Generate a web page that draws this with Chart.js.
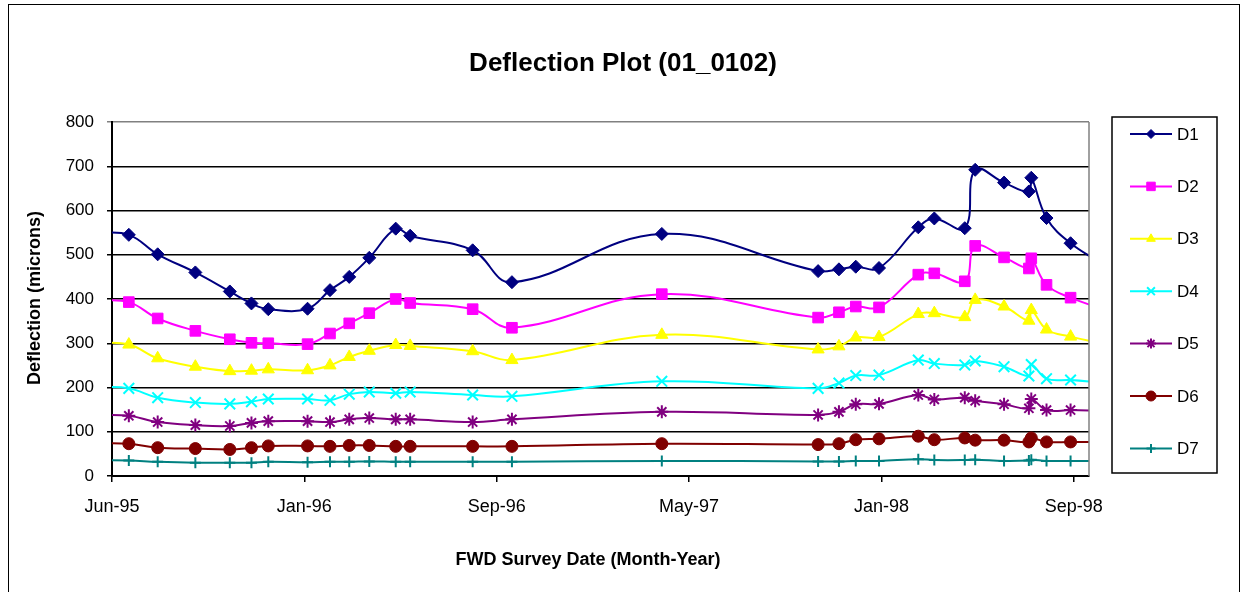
<!DOCTYPE html>
<html><head><meta charset="utf-8">
<script src="https://cdn.jsdelivr.net/npm/chart.js@4.4.1/dist/chart.umd.min.js"></script>
<style>html,body{margin:0;padding:0;background:#fff}#wrap{width:1243px;height:592px;position:relative}</style>
</head><body><div id="wrap"><canvas id="c" width="1243" height="592"></canvas></div>
<script>
// Survey dates (first and last lie just outside the visible axis range; line only)
const surveyDates = [
  '1995-05-10',
  '1995-06-22','1995-07-28','1995-09-13','1995-10-26','1995-11-22','1995-12-13',
  '1996-01-31','1996-02-28','1996-03-23','1996-04-17','1996-05-20','1996-06-07',
  '1996-08-24','1996-10-12','1997-04-17','1997-10-29','1997-11-24','1997-12-15',
  '1998-01-13','1998-03-03','1998-03-23','1998-04-30','1998-05-13','1998-06-18',
  '1998-07-19','1998-07-22','1998-08-10','1998-09-09',
  '1998-10-28'
];
const D1 = [550, 545,501,460,417,390,377, 378,420,450,493,559,543, 510,438,547,463,467,473, 470,562,582,560,692,663, 643,674,583,526, 470];
const D2 = [397, 393,356,328,309,301,300, 298,322,345,368,400,391, 377,335,411,358,370,383, 381,455,458,440,520,494, 469,492,432,403, 372];
const D3 = [301, 297,266,247,237,238,241, 239,250,269,283,296,294, 282,262,319,286,293,313, 314,366,368,359,398,383, 351,375,331,315, 296];
const D4 = [201, 198,177,166,163,168,174, 174,171,185,190,187,190, 183,180,214,198,210,227, 228,262,254,251,260,247, 226,252,220,217, 210];
const D5 = [138, 136,122,115,113,120,124, 124,122,128,131,128,128, 122,128,145,138,145,162, 163,183,173,177,170,162, 153,174,149,149, 147];
const D6 = [74, 73,64,62,60,64,68, 68,67,69,69,67,67, 67,67,73,71,73,82, 84,90,82,86,81,81, 77,86,77,77, 76];
const D7 = [36, 35,32,30,30,30,32, 31,32,32,33,32,32, 32,32,34,33,33,34, 34,38,36,36,37,34, 35,37,34,34, 34];
const seriesNames = ['D1','D2','D3','D4','D5','D6','D7'];
const tickLabels = ['Jun-95','Jan-96','Sep-96','May-97','Jan-98','Sep-98'];
const axisStartDate = '1995-06-01';
const tickStepDays = 240;
const axisEndDays = 1219;

const FONT = '"Liberation Sans", Arial, Helvetica, sans-serif';
function dayOf(s){
  const p = s.split('-').map(Number), q = axisStartDate.split('-').map(Number);
  return (Date.UTC(p[0],p[1]-1,p[2]) - Date.UTC(q[0],q[1]-1,q[2]))/86400000;
}
const styles = [
  {color:'#000080', point:'rectRot', r:6.5, lr:4.5},
  {color:'#FF00FF', point:'rect', r:7.5, lr:6},
  {color:'#FFFF00', point:'triangle', r:7, lr:5},
  {color:'#00FFFF', point:'crossRot', r:7.5, lr:5.5},
  {color:'#800080', point:'star', r:6.5, lr:5},
  {color:'#800000', point:'circle', r:6, lr:5},
  {color:'#008080', point:'cross', r:5.5, lr:4.5}
];
const allSeries = [D1,D2,D3,D4,D5,D6,D7];
const n = surveyDates.length;
const datasets = allSeries.map((vals,k)=>({
  label: seriesNames[k],
  data: vals.map((v,i)=>({x: dayOf(surveyDates[i]), y: v})),
  borderColor: styles[k].color,
  backgroundColor: styles[k].color,
  pointBackgroundColor: styles[k].color,
  pointBorderColor: styles[k].color,
  pointStyle: styles[k].point,
  pointRadius: ctx => (ctx.dataIndex===0 || ctx.dataIndex===n-1) ? 0 : styles[k].r,
  pointBorderWidth: (styles[k].point.indexOf('cross')===0 || styles[k].point==='star') ? 2 : 1,
  borderWidth: 2,
  tension: 0.4,
  fill: false
}));

const decor = {
  id:'decor',
  beforeDraw(chart){
    const c = chart.ctx;
    c.save(); c.fillStyle='#fff'; c.fillRect(0,0,chart.width,chart.height); c.restore();
  },
  afterDraw(chart){
    const c = chart.ctx, a = chart.chartArea;
    c.save();
    // right plot border (grey)
    c.strokeStyle='#808080'; c.lineWidth=1.5;
    c.beginPath(); c.moveTo(a.right, a.top); c.lineTo(a.right, a.bottom); c.stroke();
    // outer frame
    c.strokeStyle='#000'; c.lineWidth=1;
    c.strokeRect(8.5, 4.5, 1231, 600);
    // title
    c.fillStyle='#000'; c.textAlign='center'; c.textBaseline='middle';
    c.font='bold 26px '+FONT;
    c.fillText('Deflection Plot (01_0102)', 623, 64);
    // x title
    c.font='bold 18px '+FONT;
    c.fillText('FWD Survey Date (Month-Year)', 588, 560);
    // y title
    c.save(); c.translate(35, 298); c.rotate(-Math.PI/2);
    c.fillText('Deflection (microns)', 0, 0); c.restore();
    // legend
    c.strokeStyle='#000'; c.lineWidth=1.5;
    c.strokeRect(1112, 117, 105, 356);
    chart.data.datasets.forEach((ds,k)=>{
      const y = 134 + k*52.4;
      c.strokeStyle = ds.borderColor; c.lineWidth = 2;
      c.beginPath(); c.moveTo(1130,y); c.lineTo(1172,y); c.stroke();
      c.fillStyle = ds.borderColor; c.strokeStyle = ds.borderColor;
      c.lineWidth = ds.pointBorderWidth;
      Chart.helpers.drawPoint(c, {pointStyle: ds.pointStyle, radius: styles[k].lr, borderWidth: ds.pointBorderWidth, rotation:0}, 1151, y);
      c.fillStyle='#000'; c.textAlign='left'; c.textBaseline='middle';
      c.font='17px '+FONT;
      c.fillText(ds.label, 1177, y+1);
    });
    c.restore();
  }
};

new Chart(document.getElementById('c'), {
  type:'line',
  data:{datasets},
  options:{
    responsive:false, animation:false, devicePixelRatio:1,
    layout:{padding:{left:0,right:154,top:122,bottom:76}},
    plugins:{legend:{display:false}, tooltip:{enabled:false}, title:{display:false}},
    scales:{
      x:{
        type:'linear', min:0, max:axisEndDays,
        afterBuildTicks: s => { s.ticks = tickLabels.map((_,i)=>({value:i*tickStepDays})); },
        afterFit: s => { s.height = 40; },
        ticks:{ callback:(v,i)=>tickLabels[i], color:'#000', font:{family:FONT,size:18}, maxRotation:0, autoSkip:false, padding:14 },
        grid:{ drawOnChartArea:false, drawTicks:true, tickLength:6, color:'#000', lineWidth:1.5 },
        border:{ display:true, color:'#000', width:2 }
      },
      y:{
        min:0, max:800,
        afterFit: s => { s.width = 112; },
        ticks:{ stepSize:100, color:'#000', font:{family:FONT,size:17}, padding:13 },
        grid:{ color: ctx => (ctx.tick && ctx.tick.value===800) ? '#808080' : '#000', lineWidth:1.5, tickLength:5, drawTicks:true },
        border:{ display:true, color:'#000', width:2 }
      }
    }
  },
  plugins:[decor]
});
</script></body></html>
